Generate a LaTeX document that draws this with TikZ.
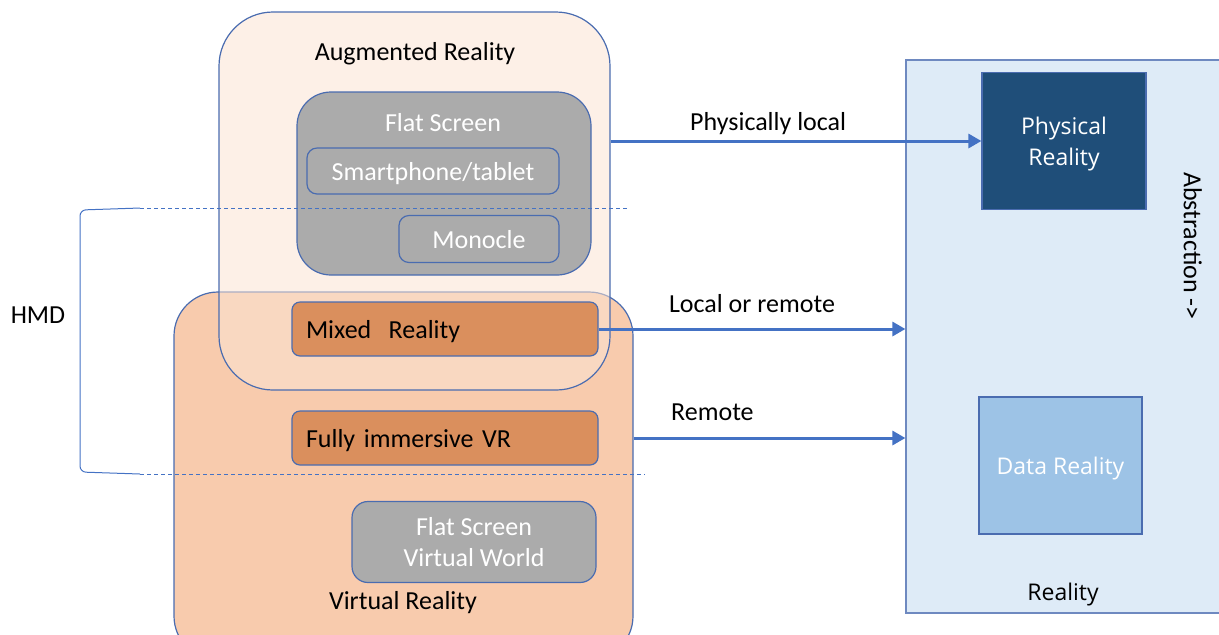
\documentclass[tikz,border=0pt]{standalone}
\usepackage{fontspec}
\setmainfont{Carlito}
\newfontfamily\segoe{Open Sans}
\usetikzlibrary{fit,arrows.meta}

\definecolor{edgeblue}{HTML}{4A6CB0}
\definecolor{arrowblue}{HTML}{4472C4}
\definecolor{arfill}{HTML}{FBE3D3}
\definecolor{vrfill}{HTML}{F8CBAD}
\definecolor{grayfill}{HTML}{ABABAB}
\definecolor{orangefill}{HTML}{DA8F5D}
\definecolor{realfill}{HTML}{DEEBF7}
\definecolor{physfill}{HTML}{1F4E79}
\definecolor{datafill}{HTML}{9DC3E6}

\begin{document}
\begin{tikzpicture}[x=0.5pt, y=-0.5pt,
  font=\fontsize{13}{15.5}\selectfont,
  every node/.append style={text depth=0pt},
  box/.style={draw=edgeblue, line width=0.6pt, inner sep=0pt},
  graybox/.style={box, fill=grayfill, text=white, rounded corners=5pt},
  orangebox/.style={box, fill=orangefill, rounded corners=4pt, minimum width=153pt,
    minimum height=27pt, inner xsep=7pt, text width=139pt, align=left},
  rightfont/.style={font=\segoe\fontsize{11.5}{15.5}\selectfont},
  flow/.style={draw=arrowblue, line width=1.5pt, -{Triangle[length=6.5pt,width=7pt]}},
  hmdline/.style={draw=arrowblue, line width=0.5pt}]
\clip (0,0) rectangle (1219,634);

% virtual reality, augmented reality over it
\node[box, fill=vrfill, rounded corners=22pt, fit={(174,292) (633,660)}] (vr) {};
\node[box, fill=arfill, fill opacity=0.55, rounded corners=27pt, fit={(219,12) (610,390)}] (ar) {};
\node (arlabel) at (415,51) {Augmented Reality};

\node[graybox, rounded corners=17pt, fit={(297,92) (591,275)}] (flat) {};
\node[text=white] (flatlabel) at (443,122) {Flat Screen};
\node[graybox, minimum width=126pt, minimum height=23pt] (phone) at (433,171) {Smartphone/tablet};
\node[graybox, minimum width=80pt, minimum height=23.5pt] (monocle) at (479,239) {Monocle};

\node[orangebox] (mixed) at (445,329) {Mixed~~Reality};
\node[orangebox] (immersive) at (445,438) {Fully immersive VR};
\node[graybox, rounded corners=8pt, minimum width=122pt, minimum height=40.5pt, align=center] (fsvw) at (474,542) {Flat Screen\\Virtual World};
\node (vrlabel) at (403,600) {Virtual Reality};

% reality
\node[box, draw=edgeblue!80, fill=realfill, fit={(906,60) (1240,613)}] (real) {};
\node[box, rightfont, fill=physfill, text=white, minimum width=82pt, minimum height=68.5pt, align=center] (phys) at (1064,141) {Physical\\Reality};
\node[box, rightfont, fill=datafill, text=white, minimum width=81.5pt, minimum height=68.5pt] (data) at (1060.5,465.5) {Data Reality};
\node[rightfont] (reallabel) at (1063,592) {Reality};
\node[rotate=-90] (abstr) at (1193,246) {Abstraction ->};

% HMD bracket
\coordinate (hmdtop) at (140,208);
\coordinate (hmdbot) at (140,474);
\coordinate (hmdtopend) at (630,208);
\coordinate (hmdbotend) at (645,474);
\draw[hmdline, rounded corners=3pt] (hmdtop) -- (80,210) -- (80,472) -- (hmdbot);
\draw[hmdline, dash pattern=on 2pt off 1.5pt] (hmdtop) -- (hmdtopend);
\draw[hmdline, dash pattern=on 2pt off 1.5pt] (hmdbot) -- (hmdbotend);
\node (hmd) at (38,315) {HMD};

% arrows
\draw[flow] (ar.east |- phys.west) -- node[pos=0.425, above=1pt, text=black] (physlabel) {Physically local} (phys.west);
\draw[flow] (mixed.east) -- node[midway, above=4pt, text=black] (lorlabel) {Local or remote} (real.west |- mixed.east);
\draw[flow] (vr.east |- immersive.east) -- node[pos=0.29, above=4.5pt, text=black] (remlabel) {Remote} (real.west |- immersive.east);
\end{tikzpicture}
\end{document}
